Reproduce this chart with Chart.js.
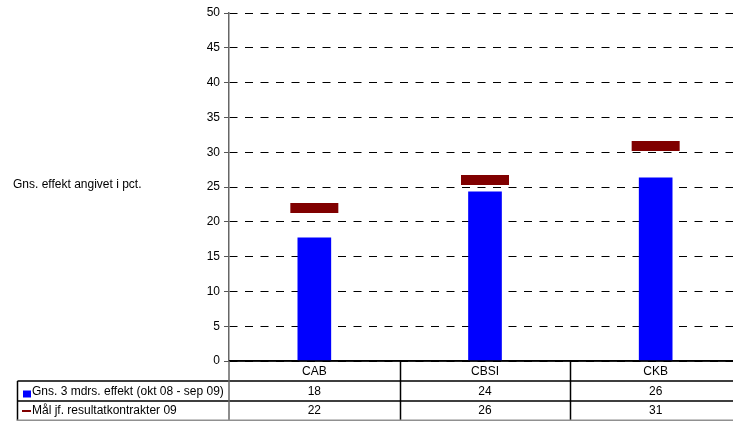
<!DOCTYPE html>
<html><head><meta charset="utf-8">
<script src="https://cdn.jsdelivr.net/npm/chart.js@4"></script>
<style>html,body{margin:0;padding:0;background:#fff;}#wrap{width:742px;height:421px;}</style>
</head><body><div id="wrap"><canvas id="c" width="742" height="421"></canvas></div>
<script>
const categories = ['CAB', 'CBSI', 'CKB'];
const effektValues = [17.7, 24.3, 26.3];
const maalValues = [22.0, 26.0, 30.9];
const effektLabel = 'Gns. 3 mdrs. effekt (okt 08 - sep 09)';
const maalLabel = 'Mål jf. resultatkontrakter 09';
const yAxisTitle = 'Gns. effekt angivet i pct.';
const yMin = 0, yMax = 50, yStep = 5;

const FONT = "'Liberation Sans', Arial, sans-serif";
Chart.defaults.font.family = FONT;
Chart.defaults.color = '#000';

const tablePlugin = {
  id: 'tablePlugin',
  afterDraw(chart) {
    const ctx = chart.ctx;
    const ca = chart.chartArea;
    const xs = chart.scales.x;
    const n = categories.length;
    const catW = (ca.right - ca.left) / n;
    const r0 = ca.bottom, r1 = r0 + 20, r2 = r1 + 20, r3 = r2 + 19;
    const tLeft = 17.5, tRight = 733;
    ctx.save();
    // right edge clipped as in the reference
    ctx.fillStyle = '#fff';
    ctx.fillRect(tRight, 0, chart.width - tRight, chart.height);

    ctx.strokeStyle = '#000';
    ctx.lineWidth = 1.5;
    ctx.beginPath();
    ctx.moveTo(ca.left, r0); ctx.lineTo(tRight, r0);
    ctx.moveTo(tLeft, r1); ctx.lineTo(tRight, r1);
    ctx.moveTo(tLeft, r2); ctx.lineTo(tRight, r2);
    ctx.moveTo(tLeft, r1); ctx.lineTo(tLeft, r3);
    for (let i = 1; i < n; i++) {
      const xx = Math.round(ca.left + catW * i) + 0.5;
      ctx.moveTo(xx, r0); ctx.lineTo(xx, chart.height);
    }
    ctx.stroke();
    // axis continues through the table
    ctx.strokeStyle = '#666';
    ctx.lineWidth = 1.5;
    ctx.beginPath();
    ctx.moveTo(ca.left, r0); ctx.lineTo(ca.left, chart.height);
    ctx.stroke();
    // bottom gray line
    ctx.strokeStyle = '#909090';
    ctx.lineWidth = 2;
    ctx.beginPath();
    ctx.moveTo(tLeft - 1, r3 + 0.5); ctx.lineTo(tRight, r3 + 0.5);
    ctx.stroke();

    // legend keys
    ctx.fillStyle = '#0000ff';
    ctx.fillRect(23, r1 + 9.5, 8, 7);
    ctx.strokeStyle = '#800000';
    ctx.lineWidth = 2;
    ctx.beginPath();
    ctx.moveTo(22, r2 + 10); ctx.lineTo(31, r2 + 10);
    ctx.stroke();

    ctx.fillStyle = '#000';
    ctx.font = '12px ' + FONT;
    ctx.textBaseline = 'middle';
    ctx.textAlign = 'left';
    ctx.fillText(effektLabel, 32, r1 + 10.5);
    ctx.fillText(maalLabel, 32, r2 + 10);

    ctx.textAlign = 'center';
    for (let i = 0; i < n; i++) {
      const cx = xs.getPixelForValue(i);
      ctx.fillText(String(Math.round(effektValues[i])), cx, r1 + 10.5);
      ctx.fillText(String(Math.round(maalValues[i])), cx, r2 + 10);
    }

    // y axis title (horizontal, left)
    ctx.textAlign = 'left';
    ctx.fillText(yAxisTitle, 13, chart.scales.y.getPixelForValue(25.4));
    ctx.restore();
  }
};

new Chart(document.getElementById('c'), {
  data: {
    labels: categories,
    datasets: [
      {
        type: 'line',
        label: maalLabel,
        data: maalValues,
        showLine: false,
        pointStyle: 'line',
        pointRadius: 24,
        pointHoverRadius: 24,
        pointBorderWidth: 10,
        pointHoverBorderWidth: 10,
        borderColor: '#800000',
        backgroundColor: '#800000',
        order: 0
      },
      {
        type: 'bar',
        label: effektLabel,
        data: effektValues,
        backgroundColor: '#0000ff',
        barThickness: 33,
        order: 1
      }
    ]
  },
  options: {
    responsive: false,
    animation: false,
    devicePixelRatio: 1,
    layout: { autoPadding: false, padding: { top: 13, right: 1, left: 0, bottom: 0 } },
    plugins: { legend: { display: false }, tooltip: { enabled: false } },
    scales: {
      x: {
        type: 'category',
        offset: true,
        grid: { display: false, drawTicks: false },
        border: { display: true, color: '#000', width: 1.5 },
        ticks: { font: { size: 12 }, padding: 3, color: '#000', maxRotation: 0 },
        afterFit(scale) { scale.height = 60; }
      },
      y: {
        min: yMin,
        max: yMax,
        ticks: { stepSize: yStep, font: { size: 12 }, padding: 4, color: '#000' },
        grid: { color: '#000', lineWidth: 1, tickLength: 5, tickColor: '#555', drawTicks: true },
        border: { display: true, color: '#666', width: 1.5, dash: [8, 7.5] },
        afterFit(scale) { scale.width = 229; }
      }
    }
  },
  plugins: [tablePlugin]
});
</script>
</body></html>
